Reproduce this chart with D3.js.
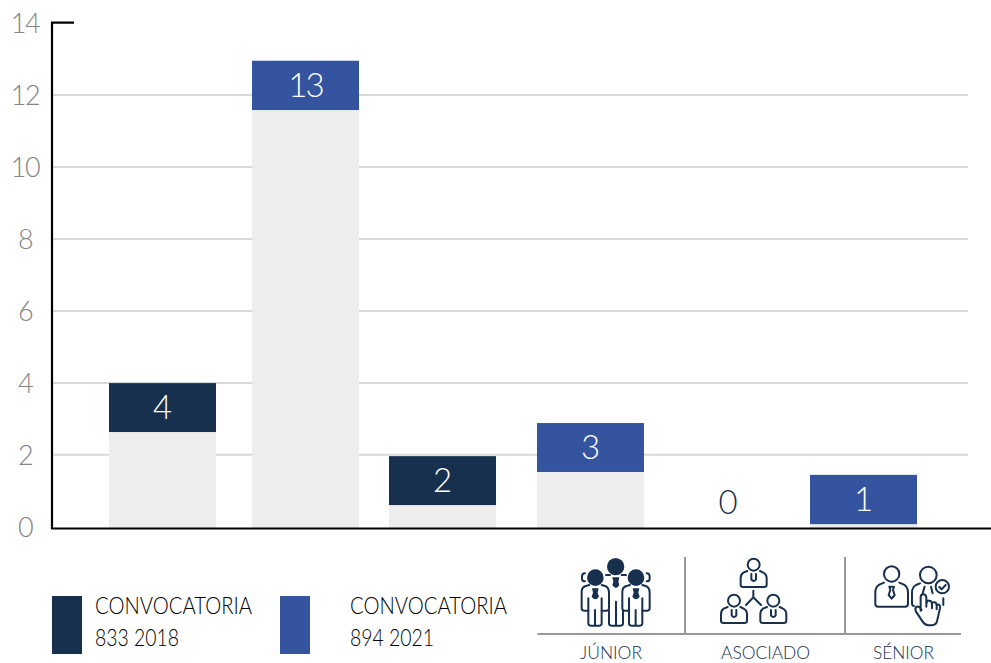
<!DOCTYPE html>
<html>
<head>
<meta charset="utf-8">
<script src="https://cdn.jsdelivr.net/npm/d3@7"></script>
<style>
  body { margin: 0; background: #fff; }
  text { font-family: Lato, sans-serif; font-weight: 300; }
  .icon { fill: none; stroke: #17304d; stroke-width: 6; stroke-linecap: round; stroke-linejoin: round; }
  .icon .solid { fill: #17304d; stroke: none; }
</style>
</head>
<body>
<svg id="chart" width="991" height="663"></svg>
<script>
// one entry per bar, left to right
const categories = ["J1", "J2", "A1", "A2", "S1", "S2"];
const labels = [4, 13, 2, 3, 0, 1];
const bandTops = [3.98, 12.94, 1.95, 2.87, 1.34, 1.43];
const bandBottoms = [2.62, 11.57, 0.59, 1.51, 0, 0.06];
const series = ["833", "894", "833", "894", "833", "894"];
const emptyBars = ["S1"];

const yTicks = [0, 2, 4, 6, 8, 10, 12, 14];
const legendKeys = ["833", "894"];
const legendLine1 = ["CONVOCATORIA", "CONVOCATORIA"];
const legendLine2 = ["833 2018", "894 2021"];
const levels = ["JÚNIOR", "ASOCIADO", "SÉNIOR"];
const levelWidths = [62, 89, 61];

const DARK = "#17304d", BLUE = "#34549f";
const color = d3.scaleOrdinal(legendKeys, [DARK, BLUE]);

const svg = d3.select("#chart");
const y = d3.scaleLinear().domain([0, 14]).range([526.3, 22.6]);
// the bars are not evenly spaced in the original
const x = d3.scaleOrdinal(categories, [162.5, 305.5, 442.5, 590.5, 728, 863.5]);
const barWidth = 107;
const baseline = 528.5;

// grid + tick labels
const axis = svg.append("g")
  .attr("transform", "translate(52,0)")
  .call(d3.axisLeft(y).tickValues(yTicks).tickSize(-916).tickFormat(d3.format("d")));
axis.select(".domain").remove();
axis.selectAll("line")
  .attr("stroke", "#d9d9d9").attr("stroke-width", 2)
  .attr("display", d => (d === 0 || d === 14) ? "none" : null);
axis.selectAll("text")
  .attr("x", -27).attr("dy", "0.36em")
  .attr("text-anchor", "middle")
  .attr("fill", "#858585").attr("font-size", 27)
  .attr("letter-spacing", -1.5);

const bars = svg.append("g").selectAll("g")
  .data(categories.map((c, i) => ({ c, label: labels[i], top: bandTops[i], bottom: bandBottoms[i], s: series[i] })))
  .enter().append("g");

const solid = bars.filter(d => !emptyBars.includes(d.c));

solid.append("rect")
  .attr("x", d => x(d.c) - barWidth / 2)
  .attr("width", barWidth)
  .attr("y", d => y(d.bottom))
  .attr("height", d => baseline - y(d.bottom))
  .attr("fill", "#ededed");

solid.append("rect")
  .attr("x", d => x(d.c) - barWidth / 2)
  .attr("width", barWidth)
  .attr("y", d => y(d.top))
  .attr("height", d => y(d.bottom) - y(d.top))
  .attr("fill", d => color(d.s));

bars.append("text")
  .text(d => d.label)
  .attr("x", d => x(d.c))
  .attr("y", d => (y(d.top) + y(d.bottom)) / 2)
  .attr("dy", "0.36em")
  .attr("text-anchor", "middle")
  .attr("font-size", 33)
  .attr("letter-spacing", d => d.label > 9 ? -2 : 0)
  .attr("fill", d => emptyBars.includes(d.c) ? DARK : "#fff");

// axis lines go over the bars
svg.append("path")
  .attr("d", d3.line()([[74, y(14)], [52, y(14)], [52, baseline], [991, baseline]]))
  .attr("fill", "none").attr("stroke", "#000").attr("stroke-width", 2.2);

// legend
const legendX = d3.scaleOrdinal(legendKeys, [52, 280]);
const legendTextX = d3.scaleOrdinal(legendKeys, [95, 350]);
legendKeys.forEach((k, i) => {
  svg.append("rect")
    .attr("x", legendX(k)).attr("y", 596)
    .attr("width", 30).attr("height", 58)
    .attr("fill", color(k));
  svg.append("text").text(legendLine1[i])
    .attr("x", legendTextX(k)).attr("y", 614)
    .attr("font-size", 23).attr("fill", "#000")
    .attr("textLength", 157).attr("lengthAdjust", "spacingAndGlyphs");
  svg.append("text").text(legendLine2[i])
    .attr("x", legendTextX(k)).attr("y", 646)
    .attr("font-size", 24).attr("fill", "#000")
    .attr("textLength", 84).attr("lengthAdjust", "spacingAndGlyphs");
});

// level strip under the chart
svg.append("path")
  .attr("d", "M537.5 634H961M685 557V634M845 557V634")
  .attr("fill", "none").attr("stroke", "#999").attr("stroke-width", 2);

const levelX = d3.scaleOrdinal(levels, [580, 721, 873]);
svg.append("g").selectAll("text")
  .data(levels).enter().append("text")
  .text(d => d)
  .attr("x", d => levelX(d))
  .attr("y", 659)
  .attr("font-size", 18)
  .attr("fill", DARK)
  .attr("textLength", (d, i) => levelWidths[i])
  .attr("lengthAdjust", "spacingAndGlyphs");

// icons, traced at 3x so they sit in a scaled group
const juniorIcon = svg.append("g").attr("class", "icon")
  .attr("transform", "translate(530,540) scale(0.3333)");

function suitPerson(dx) {
  const g = juniorIcon.append("g").attr("transform", `translate(${dx},0)`);
  g.append("circle").attr("class", "solid").attr("cx", 196).attr("cy", 113).attr("r", 25);
  g.append("path").attr("d", "M175 212H162Q155 212 155 205V155Q155 140 170 137L178 135M215 135L225 138Q237 142 237 158V205Q237 212 230 212H215");
  g.append("path").attr("d", "M175 175V250Q175 257 182 257H208Q215 257 215 250V175M195 210V257");
  g.append("path").attr("class", "solid").attr("d", "M186 145H206L203 158L207 170Q196 186 185 170L189 158Z");
}
suitPerson(0);
suitPerson(122);
juniorIcon.append("circle").attr("class", "solid").attr("cx", 257).attr("cy", 80).attr("r", 26);
juniorIcon.append("path").attr("class", "solid").attr("d", "M247 112H268L265 125L268 135Q258 153 247 135L250 125Z");
juniorIcon.append("path").attr("d", "M237 212V250Q237 257 244 257H272Q279 257 279 250V212M258 185V257M228 105H240M275 105H288M165 100Q156 100 156 110V116Q156 124 165 124M350 100Q359 100 359 110V116Q359 124 350 124");

const midIcon = svg.append("g").attr("class", "icon")
  .attr("transform", "translate(730,540) scale(0.3333)");

function linePerson(dx, dy) {
  const g = midIcon.append("g").attr("transform", `translate(${dx},${dy})`);
  g.append("circle").attr("cx", 71).attr("cy", 74).attr("r", 18);
  g.append("path").attr("d", "M52 93L40 98Q32 103 32 115V134Q32 141 40 141H102Q110 141 110 134V115Q110 103 100 98L90 93");
  g.append("path").attr("d", "M64 102V118Q71 128 78 118V102");
}
linePerson(0, 0);
linePerson(-59, 108);
linePerson(59, 108);
midIcon.append("path").attr("d", "M70 152V172M70 172L48 195M70 172L93 195");

const seniorIcon = svg.append("g").attr("class", "icon")
  .attr("transform", "translate(730,540) scale(0.3333)");
seniorIcon.append("circle").attr("cx", 485).attr("cy", 102).attr("r", 23);
seniorIcon.append("path").attr("d", "M462 128L448 134Q436 141 436 158V192Q436 200 445 200H525Q534 200 534 192V158Q534 141 522 134L508 128");
seniorIcon.append("path").attr("d", "M478 140H492L489 150L494 165L485 176L476 165L481 150Z");
seniorIcon.append("circle").attr("cx", 595).attr("cy", 105).attr("r", 25);
seniorIcon.append("path").attr("d", "M570 130L558 135Q546 142 546 158V190Q546 198 552 198M584 140L578 160M603 140L608 160M640 175V195");
seniorIcon.append("circle").attr("cx", 637).attr("cy", 140).attr("r", 20);
seniorIcon.append("path").attr("d", "M628 141L635 148L647 135");
seniorIcon.append("path")
  .attr("d", "M572 212V172Q572 163 580 163Q588 163 589 172V200M589 195Q590 180 598 182Q606 182 606 195V205M606 192Q608 185 614 187Q620 188 620 198V208M620 198Q622 192 627 194Q631 196 630 205L622 240Q620 256 605 256H595Q585 256 578 245L558 215Q553 205 560 200Q568 198 575 210")
  .attr("fill", "#fff");
</script>
</body>
</html>
